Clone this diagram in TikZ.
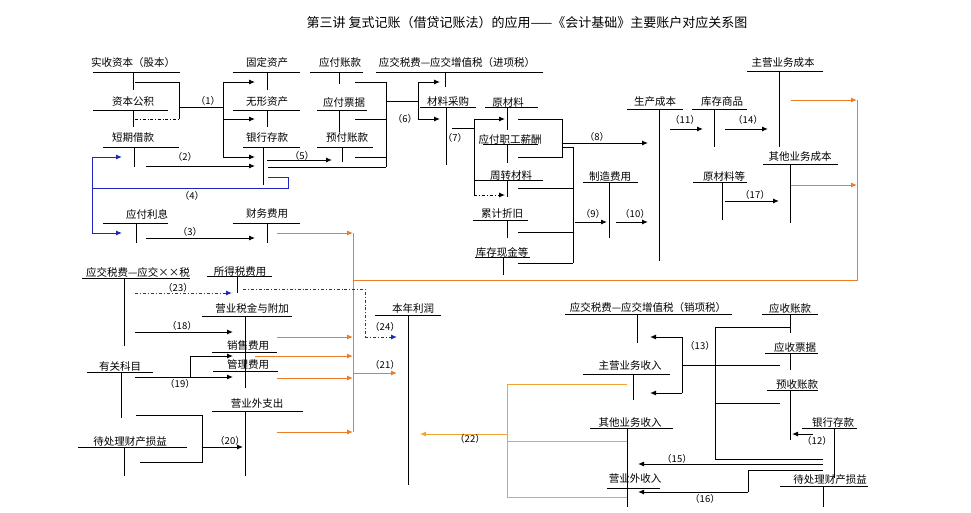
\documentclass[tikz,border=0pt]{standalone}
\usepackage{fontspec}
\newfontfamily\cjk{Noto Sans CJK SC}
\usetikzlibrary{arrows.meta}
\definecolor{orangeline}{RGB}{236,125,40}
\definecolor{lightorange}{RGB}{240,165,50}
\definecolor{blueline}{RGB}{30,40,190}
\tikzset{
  acct/.style={font=\cjk\fontsize{10.5}{11}\selectfont,inner sep=0pt},
  lbl/.style={font=\cjk\fontsize{9.5}{10}\selectfont,inner sep=0pt},
  tline/.style={line width=0.6pt},
  arr/.style={line width=1pt,-{Latex[length=6pt,width=5pt]}},
  oarr/.style={orangeline,line width=1pt,-{Latex[length=6pt,width=5pt]}},
  barr/.style={blueline,line width=1pt,-{Latex[length=6pt,width=5pt]}}
}
% T-account: name, label, text position, line from x1 to x2 at y, stem x, stem end y
\newcommand{\acct}[8]{%
  \node[acct] (#1) at (#3) {#2};
  \draw[tline] (#4,#6) -- (#5,#6);
  \draw[tline] (#7,#6) -- (#7,#8);
}
\begin{document}
\begin{tikzpicture}[x=1pt,y=-1pt]
  \useasboundingbox (0,0) rectangle (971,512);

  % title
  \node[font=\cjk\fontsize{13}{15}\selectfont] (title) at (527,23)
    {第三讲\ 复式记账（借贷记账法）的应用——《会计基础》主要账户对应关系图};

  % accounts, upper part
  \acct{shishou}{实收资本（股本）}{133,63}{93}{180}{72}{133}{90}
  \acct{zibengj}{资本公积}{133,102}{93}{168}{110}{133}{127}
  \acct{duanqi}{短期借款}{133,138}{103}{179}{147}{134}{167}
  \acct{yingfulx}{应付利息}{147,214}{103}{168}{223}{136}{243}
  \acct{guding}{固定资产}{267,63}{233}{300}{72}{267}{90}
  \acct{wuxing}{无形资产}{267,102}{233}{300}{110}{267}{127}
  \acct{yinhang}{银行存款}{267,138}{243}{300}{147}{263}{185}
  \acct{caiwu}{财务费用}{267,214}{233}{300}{223}{267}{243}
  \acct{yingfuzk}{应付账款}{340,63}{310}{363}{72}{339}{84}
  \acct{yingfupj}{应付票据}{344,102}{317}{367}{110}{339}{132}
  \acct{yufu}{预付账款}{347,138}{317}{373}{147}{342}{162}
  \acct{jinxiang}{应交税费—应交增值税（进项税）}{457,63}{376}{543}{72}{445}{87}
  \acct{caigou}{材料采购}{448,102}{420}{476}{107}{446}{165}
  \acct{yuancl}{原材料}{508,102}{485}{538}{107}{507}{130}
  \acct{xinchou}{应付职工薪酬}{510,139}{483}{538}{144}{507}{163}
  \acct{zhouzhuan}{周转材料}{511,176}{475}{543}{180}{507}{197}
  \acct{zhejiu}{累计折旧}{502,214}{473}{528}{220}{507}{238}
  \acct{xianjin}{库存现金等}{502,252}{475}{530}{257}{503}{275}
  \acct{zhizao}{制造费用}{610,177}{583}{638}{182}{609}{238}
  \acct{shengchan}{生产成本}{655,102}{627}{683}{109}{659}{261}
  \acct{shangpin}{库存商品}{722,102}{692}{747}{109}{714}{147}
  \acct{zhuyingcb}{主营业务成本}{783,63}{747}{823}{71}{779}{147}
  \acct{qitacb}{其他业务成本}{800,157}{763}{838}{164}{790}{223}
  \acct{yuancld}{原材料等}{724,176}{693}{747}{182}{722}{220}

  % accounts, lower part
  \acct{yingjiao}{应交税费—应交××税}{138,272}{82}{190}{278}{124}{346}
  \acct{suode}{所得税费用}{240,272}{207}{272}{276}{237}{293}
  \acct{shuijin}{营业税金与附加}{252,308}{202}{292}{316}{245}{388}
  \node[acct] (xiaoshou) at (248,346) {销售费用};
  \draw[tline] (212,352) -- (277,352);
  \node[acct] (guanli) at (248,365) {管理费用};
  \draw[tline] (213,371) -- (278,371);
  \acct{youguan}{有关科目}{120,366}{87}{153}{372}{121}{418}
  \acct{yingyezc}{营业外支出}{257,404}{212}{303}{411}{245}{476}
  \acct{daichuli}{待处理财产损益}{130,442}{78}{187}{447}{124}{476}
  \acct{lirun}{本年利润}{413,308}{375}{441}{315}{408}{485}
  \acct{xiaoxiang}{应交税费—应交增值税（销项税）}{648,308}{565}{732}{314}{637}{343}
  \acct{zhuyingsr}{主营业务收入}{630,366}{583}{670}{374}{633}{400}
  \acct{qitasr}{其他业务收入}{630,423}{590}{673}{428}{627}{507}
  \acct{yingyesr}{营业外收入}{635,479}{607}{660}{488}{627}{507}
  \acct{yingshou}{应收账款}{790,308}{762}{818}{314}{790}{333}
  \acct{yingshoupj}{应收票据}{795,347}{765}{818}{353}{790}{370}
  \acct{yushou}{预收账款}{797,385}{767}{818}{390}{790}{440}
  \acct{yinhang2}{银行存款}{833,423}{802}{857}{428}{834}{478}
  \acct{daichuli2}{待处理财产损益}{830,480}{780}{868}{486}{823}{507}

  % (1)
  \draw[tline] (135,82) -- (179,82) -- (179,119);
  \draw[tline,dash dot] (135,119) -- (179,119);
  \draw[tline] (179,107) -- (223,107);
  \draw[tline] (223,82) -- (223,157);
  \foreach \y in {82,119,157} \draw[arr] (223,\y) -- (255,\y);
  \node[lbl] (n1) at (208,101) {（1）};
  % (2) (5)
  \draw[arr] (146,166) -- (255,166);
  \node[lbl] (n2) at (185,157) {（2）};
  \draw[arr] (267,160) -- (332,160);
  \node[lbl] (n5) at (302,156) {（5）};
  % (4)
  \draw[blueline,line width=0.8pt] (268,177) -- (288,177) -- (288,188) -- (92,188);
  \draw[barr] (92,188) |- (122,157);
  \draw[barr] (92,188) |- (122,233);
  \node[lbl] (n4) at (192,196) {（4）};
  % (3)
  \draw[arr] (146,238) -- (255,238);
  \node[lbl] (n3) at (190,232) {（3）};
  % (6)
  \foreach \y in {82,119,157} \draw[tline] (355,\y) -- (386,\y);
  \draw[tline] (268,167) -- (386,167);
  \draw[tline] (386,82) -- (386,167);
  \draw[tline] (386,101) -- (418,101);
  \draw[tline] (418,82) -- (418,119);
  \draw[arr] (418,82) -- (440,82);
  \draw[arr] (418,119) -- (440,119);
  \node[lbl] (n6) at (405,119) {（6）};
  % (7)
  \draw[tline] (452,128) -- (474,128);
  \draw[tline] (474,119) -- (474,195);
  \draw[arr] (474,119) -- (505,119);
  \draw[arr,dash dot] (474,195) -- (505,195);
  \node[lbl] (n7) at (455,138) {（7）};
  % (8)
  \draw[tline] (518,119) -- (562,119) -- (562,157) -- (518,157);
  \draw[arr] (562,143) -- (648,143);
  \node[lbl] (n8) at (597,137) {（8）};
  % (9) (10)
  \draw[tline] (562,147) -- (573,147) -- (573,263);
  \foreach \y in {188,232,263} \draw[tline] (518,\y) -- (573,\y);
  \draw[arr] (575,222) -- (607,222);
  \node[lbl] (n9) at (593,214) {（9）};
  \draw[arr] (616,222) -- (648,222);
  \node[lbl] (n10) at (635,214) {（10）};
  % (11) (14) (17)
  \draw[arr] (670,129) -- (703,129);
  \node[lbl] (n11) at (685,120) {（11）};
  \draw[arr] (725,129) -- (768,129);
  \node[lbl] (n14) at (748,120) {（14）};
  \draw[arr] (725,201) -- (779,201);
  \node[lbl] (n17) at (755,195) {（17）};

  % costs and expenses to profit
  \draw[oarr] (791,100) -- (857,100);
  \draw[oarr] (791,185) -- (857,185);
  \draw[orangeline,line width=1pt] (857,100) -- (857,280) -- (353,280);
  \draw[oarr] (277,233) -- (353,233);
  \draw[orangeline,line width=1pt] (353,233) -- (353,432);
  \foreach \y/\x in {337/277,356/255,378/277,432/277} \draw[oarr] (\x,\y) -- (353,\y);
  \draw[oarr] (353,373) -- (397,373);
  \node[lbl] (n21) at (385,365) {（21）};

  % (23) (24)
  \draw[barr,dash dot] (135,293) -- (232,293);
  \node[lbl] (n23) at (178,288) {（23）};
  \draw[blueline,line width=0.8pt,dash dot] (243,289) -- (365,289) -- (365,337);
  \draw[barr,dash dot] (365,337) -- (397,337);
  \node[lbl] (n24) at (385,327) {（24）};
  % (18) (19) (20)
  \draw[arr] (135,332) -- (233,332);
  \node[lbl] (n18) at (182,326) {（18）};
  \draw[arr] (135,377) -- (233,377);
  \draw[arr] (190,377) |- (233,356);
  \node[lbl] (n19) at (180,384) {（19）};
  \draw[tline] (136,415) -- (202,415) -- (202,462) -- (140,462);
  \draw[arr] (202,447) -- (243,447);
  \node[lbl] (n20) at (230,441) {（20）};

  % revenues
  \draw[tline] (715,327) -- (790,327);
  \draw[tline] (715,327) -- (715,459) -- (823,459);
  \draw[tline] (715,403) -- (780,403);
  \draw[tline] (682,365) -- (780,365);
  \draw[tline] (682,337) -- (682,393);
  \draw[arr] (682,337) -- (650,337);
  \draw[arr] (682,393) -- (650,393);
  \node[lbl] (n13) at (700,346) {（13）};
  \draw[arr] (813,434) -- (792,434);
  \node[lbl] (n12) at (817,441) {（12）};
  \draw[arr] (823,464) -- (638,464);
  \node[lbl] (n15) at (677,459) {（15）};
  \draw[tline] (823,470) -- (748,470) -- (748,492);
  \draw[arr] (748,492) -- (638,492);
  \node[lbl] (n16) at (705,499) {（16）};
  % (22)
  \foreach \y in {384,441,497} \draw[lightorange,line width=0.9pt] (627,\y) -- (507,\y);
  \draw[lightorange,line width=0.9pt] (507,384) -- (507,497);
  \draw[lightorange,line width=1pt,-{Latex[length=6pt,width=5pt]}] (507,434) -- (420,434);
  \node[lbl] (n22) at (470,439) {（22）};
\end{tikzpicture}
\end{document}
